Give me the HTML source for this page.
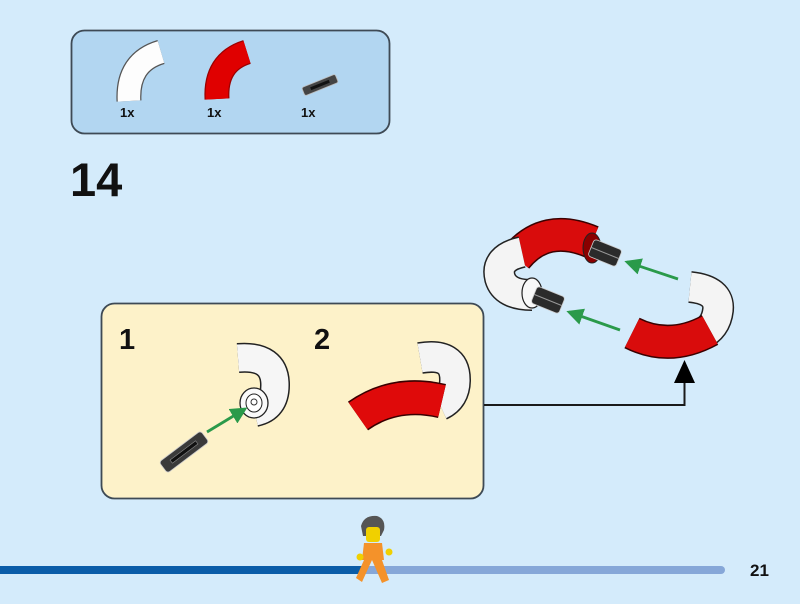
<!DOCTYPE html>
<html><head><meta charset="utf-8">
<style>
html,body{margin:0;padding:0;background:#d4ebfb;}
svg{display:block;}
text{font-family:"Liberation Sans",sans-serif;font-weight:bold;fill:#111;}
</style></head>
<body>
<svg width="800" height="604" viewBox="0 0 800 604" xmlns="http://www.w3.org/2000/svg">
<defs>
<marker id="ga" markerWidth="6" markerHeight="6" refX="5" refY="3" orient="auto" markerUnits="strokeWidth">
<path d="M0,0 L6,3 L0,6 Z" fill="#2a9a4a"/>
</marker>
</defs>
<rect width="800" height="604" fill="#d4ebfb"/>

<!-- parts box -->
<rect x="71.5" y="30.5" width="318" height="103" rx="13" fill="#b2d6f1" stroke="#3e4a55" stroke-width="1.8"/>
<!-- white curve -->
<path d="M129,101 Q127,62 161,52" fill="none" stroke="#555" stroke-width="25"/>
<path d="M129,101 Q127,62 161,52" fill="none" stroke="#fdfdfd" stroke-width="22.5"/>
<!-- red curve -->
<path d="M217,99 Q215,62 247,52" fill="none" stroke="#9a0000" stroke-width="25"/>
<path d="M217,99 Q215,62 247,52" fill="none" stroke="#e00000" stroke-width="22.5"/>
<!-- axle -->
<g transform="translate(320,85) rotate(-22)">
<rect x="-18" y="-4.5" width="36" height="9" rx="2" fill="#444" stroke="#bbb" stroke-width="0.8"/>
<rect x="-10" y="-1.5" width="20" height="3" fill="#111"/>
</g>
<text x="120" y="117" font-size="13">1x</text>
<text x="207" y="117" font-size="13">1x</text>
<text x="301" y="117" font-size="13">1x</text>

<!-- step number -->
<text x="70" y="196" font-size="47">14</text>

<!-- yellow sub-step box -->
<rect x="101.5" y="303.5" width="382" height="195" rx="13" fill="#fdf2c9" stroke="#3e4a55" stroke-width="1.8"/>
<text x="119" y="349" font-size="29">1</text>
<text x="314" y="349" font-size="29">2</text>

<!-- step 1 white elbow -->
<path d="M238,358 Q275,355 275,385 Q275,408 255,412" fill="none" stroke="#222" stroke-width="30"/>
<path d="M238,358 Q275,355 275,385 Q275,408 255,412" fill="none" stroke="#f6f6f6" stroke-width="27"/>
<ellipse cx="254" cy="403" rx="14" ry="15" fill="#fafafa" stroke="#222" stroke-width="1.3"/>
<ellipse cx="254" cy="403" rx="8" ry="9" fill="#fff" stroke="#222" stroke-width="1"/>
<circle cx="254" cy="402" r="3" fill="none" stroke="#333" stroke-width="1"/>
<line x1="207" y1="432" x2="245" y2="409" stroke="#2a9a4a" stroke-width="2.8" marker-end="url(#ga)"/>
<g transform="translate(184,452) rotate(-37)">
<rect x="-26" y="-7" width="52" height="14" rx="3" fill="#3a3a3a" stroke="#ccc" stroke-width="0.8"/>
<rect x="-16" y="-2" width="32" height="4" fill="#111" stroke="#888" stroke-width="0.6"/>
</g>

<!-- step 2 -->
<path d="M420,358 Q455,352 455,380 Q455,398 440,405" fill="none" stroke="#222" stroke-width="32"/>
<path d="M420,358 Q455,352 455,380 Q455,398 440,405" fill="none" stroke="#f4f4f4" stroke-width="29"/>
<path d="M358,416 Q395,390 442,401" fill="none" stroke="#3a0000" stroke-width="35"/>
<path d="M358,416 Q395,390 442,401" fill="none" stroke="#df0a0a" stroke-width="32"/>

<!-- connector -->
<polyline points="484,405 684.5,405 684.5,380" fill="none" stroke="#1a1a1a" stroke-width="2"/>
<path d="M674,383 L684.5,360 L695,383 Z" fill="#000"/>

<!-- assembled ring -->
<path d="M516,258 Q545,222 592,242" fill="none" stroke="#3a0000" stroke-width="34"/>
<path d="M516,258 Q545,222 592,242" fill="none" stroke="#d90c0c" stroke-width="31"/>
<ellipse cx="592" cy="248" rx="9" ry="15" fill="#8a0000" stroke="#222" stroke-width="1"/>
<path d="M522,252 Q495,258 500,278 Q505,295 532,295" fill="none" stroke="#222" stroke-width="32"/>
<path d="M522,252 Q495,258 500,278 Q505,295 532,295" fill="none" stroke="#f4f4f4" stroke-width="29"/>
<ellipse cx="532" cy="293" rx="10" ry="15" fill="#f8f8f8" stroke="#222" stroke-width="1.2"/>
<g transform="translate(605,253) rotate(22)">
<rect x="-15" y="-9" width="30" height="18" rx="3" fill="#2b2b2b" stroke="#ccc" stroke-width="0.8"/>
<line x1="-15" y1="0" x2="15" y2="0" stroke="#999" stroke-width="1"/>
</g>
<g transform="translate(548,300) rotate(22)">
<rect x="-15" y="-9" width="30" height="18" rx="3" fill="#2b2b2b" stroke="#ccc" stroke-width="0.8"/>
<line x1="-15" y1="0" x2="15" y2="0" stroke="#999" stroke-width="1"/>
</g>
<line x1="678" y1="279" x2="627" y2="262" stroke="#2a9a4a" stroke-width="2.8" marker-end="url(#ga)"/>
<line x1="620" y1="330" x2="569" y2="312" stroke="#2a9a4a" stroke-width="2.8" marker-end="url(#ga)"/>
<path d="M690,287 Q720,290 718,310 Q716,328 700,335" fill="none" stroke="#222" stroke-width="32"/>
<path d="M690,287 Q720,290 718,310 Q716,328 700,335" fill="none" stroke="#f4f4f4" stroke-width="29"/>
<path d="M632,333 Q670,352 710,330" fill="none" stroke="#3a0000" stroke-width="34"/>
<path d="M632,333 Q670,352 710,330" fill="none" stroke="#d90c0c" stroke-width="31"/>

<!-- progress bar -->
<line x1="362" y1="570" x2="721" y2="570" stroke="#86a7d8" stroke-width="8" stroke-linecap="round"/>
<rect x="0" y="566" width="364" height="8" fill="#0a5ca8"/>
<text x="750" y="576" font-size="17">21</text>

<!-- minifigure -->
<g>
<path d="M361,526 Q364,515 377,516 Q386,519 384,530 L381,536 L363,536 Z" fill="#555"/>
<rect x="366" y="527" width="14" height="15" rx="3" fill="#f0d000"/>
<path d="M364,543 L382,543 L384,560 L362,560 Z" fill="#f4922a"/>
<circle cx="360" cy="557" r="3.5" fill="#f0d000"/>
<circle cx="389" cy="552" r="3.5" fill="#f0d000"/>
<path d="M364,560 L372,560 L362,582 L356,578 Z" fill="#f4922a"/>
<path d="M372,560 L382,560 L389,580 L382,583 Z" fill="#f4922a"/>
</g>
</svg>
</body></html>
